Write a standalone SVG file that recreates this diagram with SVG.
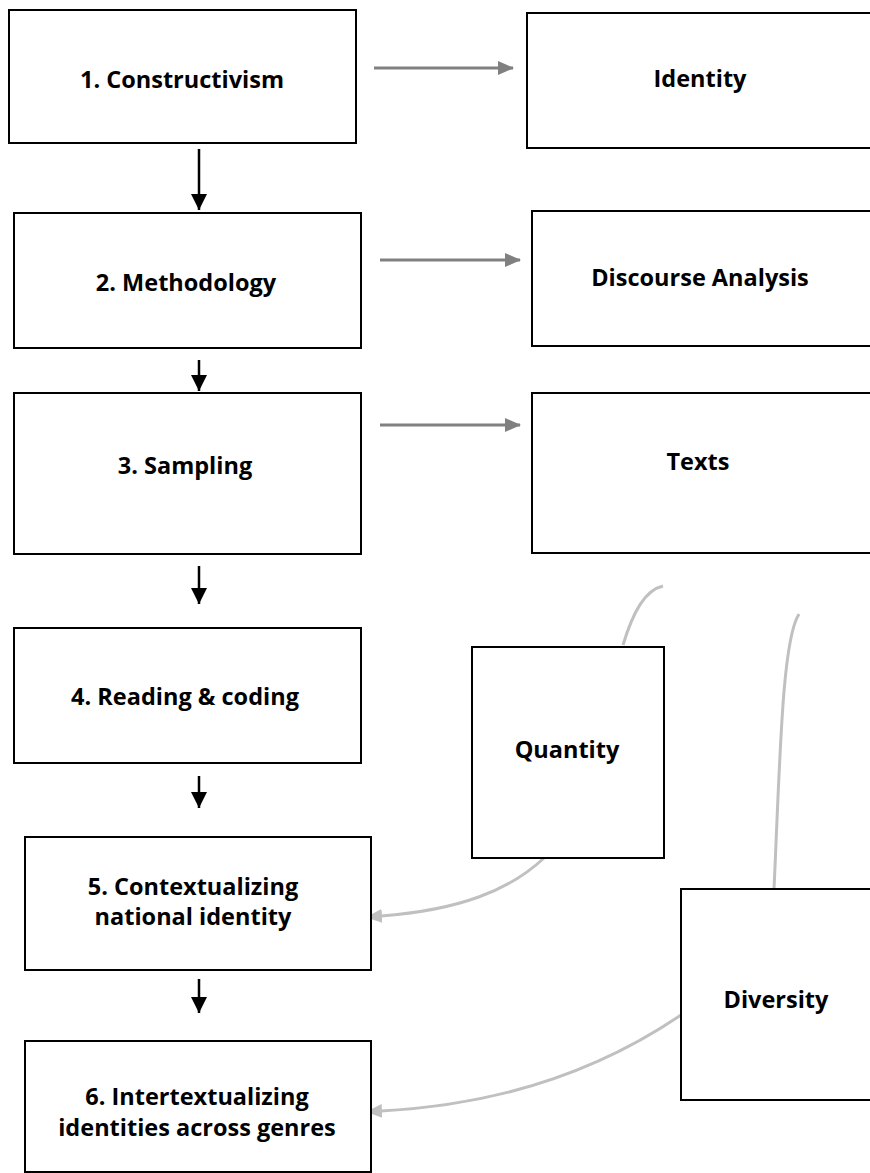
<svg xmlns="http://www.w3.org/2000/svg" width="870" height="1173" viewBox="0 0 870 1173">
<style>
.box{fill:#fff;stroke:#000;stroke-width:2}
.lbl{font-family:"Open Sans","Liberation Sans",sans-serif;font-weight:bold;font-size:23.5px;fill:#000;text-anchor:middle}
.gr{stroke:#808080;stroke-width:3;fill:none}
.bk{stroke:#000;stroke-width:2.5;fill:none}
.lg{stroke:#c0c0c0;stroke-width:3;fill:none}
</style>
<defs>
<marker id="ag" markerUnits="userSpaceOnUse" markerWidth="16" markerHeight="14" refX="15" refY="7" orient="auto"><path d="M0,0 L16,7 L0,14 Z" fill="#808080"/></marker>
<marker id="ab" markerUnits="userSpaceOnUse" markerWidth="16" markerHeight="16" refX="16" refY="8" orient="auto"><path d="M0,0 L16,8 L0,16 Z" fill="#000"/></marker>
<marker id="al" markerUnits="userSpaceOnUse" markerWidth="16" markerHeight="14" refX="1" refY="7" orient="auto-start-reverse"><path d="M0,0 L16,7 L0,14 Z" fill="#c0c0c0"/></marker>
</defs>
<g id="connectors">
<line class="gr" x1="374" y1="68" x2="513" y2="68" marker-end="url(#ag)"/>
<line class="gr" x1="380" y1="260" x2="520" y2="260" marker-end="url(#ag)"/>
<line class="gr" x1="380" y1="425" x2="520" y2="425" marker-end="url(#ag)"/>
<line class="bk" x1="199" y1="149" x2="199" y2="210" marker-end="url(#ab)"/>
<line class="bk" x1="199" y1="360" x2="199" y2="391" marker-end="url(#ab)"/>
<line class="bk" x1="199" y1="566" x2="199" y2="604" marker-end="url(#ab)"/>
<line class="bk" x1="199" y1="776" x2="199" y2="808" marker-end="url(#ab)"/>
<line class="bk" x1="199" y1="979" x2="199" y2="1013" marker-end="url(#ab)"/>
<path class="lg" d="M623,645 C633,612 645,590 663,586"/>
<path class="lg" d="M774,889 C780,760 782,640 799,614"/>
<path class="lg" d="M544,858 C510,890 460,910 381,916" marker-end="url(#al)"/>
<path class="lg" d="M681,1015 C600,1070 500,1105 381,1111" marker-end="url(#al)"/>
</g>
<g id="n1"><rect class="box" x="9" y="10" width="347" height="133"/><text class="lbl" x="182" y="88">1. Constructivism</text></g>
<g id="n2"><rect class="box" x="14" y="213" width="347" height="135"/><text class="lbl" x="186" y="291">2. Methodology</text></g>
<g id="n3"><rect class="box" x="14" y="393" width="347" height="161"/><text class="lbl" x="185" y="474">3. Sampling</text></g>
<g id="n4"><rect class="box" x="14" y="628" width="347" height="135"/><text class="lbl" x="185" y="705">4. Reading &amp; coding</text></g>
<g id="n5"><rect class="box" x="25" y="837" width="346" height="133"/><text class="lbl" x="193" y="895">5. Contextualizing</text><text class="lbl" x="193" y="925">national identity</text></g>
<g id="n6"><rect class="box" x="25" y="1041" width="346" height="131"/><text class="lbl" x="197" y="1105">6. Intertextualizing</text><text class="lbl" x="197" y="1136">identities across genres</text></g>
<g id="identity"><rect class="box" x="527" y="13" width="360" height="135"/><text class="lbl" x="700" y="87">Identity</text></g>
<g id="discourse"><rect class="box" x="532" y="211" width="360" height="135"/><text class="lbl" x="700" y="286">Discourse Analysis</text></g>
<g id="texts"><rect class="box" x="532" y="393" width="360" height="160"/><text class="lbl" x="698" y="470">Texts</text></g>
<g id="quantity"><rect class="box" x="472" y="647" width="192" height="211"/><text class="lbl" x="567" y="758">Quantity</text></g>
<g id="diversity"><rect class="box" x="681" y="889" width="200" height="211"/><text class="lbl" x="776" y="1008">Diversity</text></g>
</svg>
